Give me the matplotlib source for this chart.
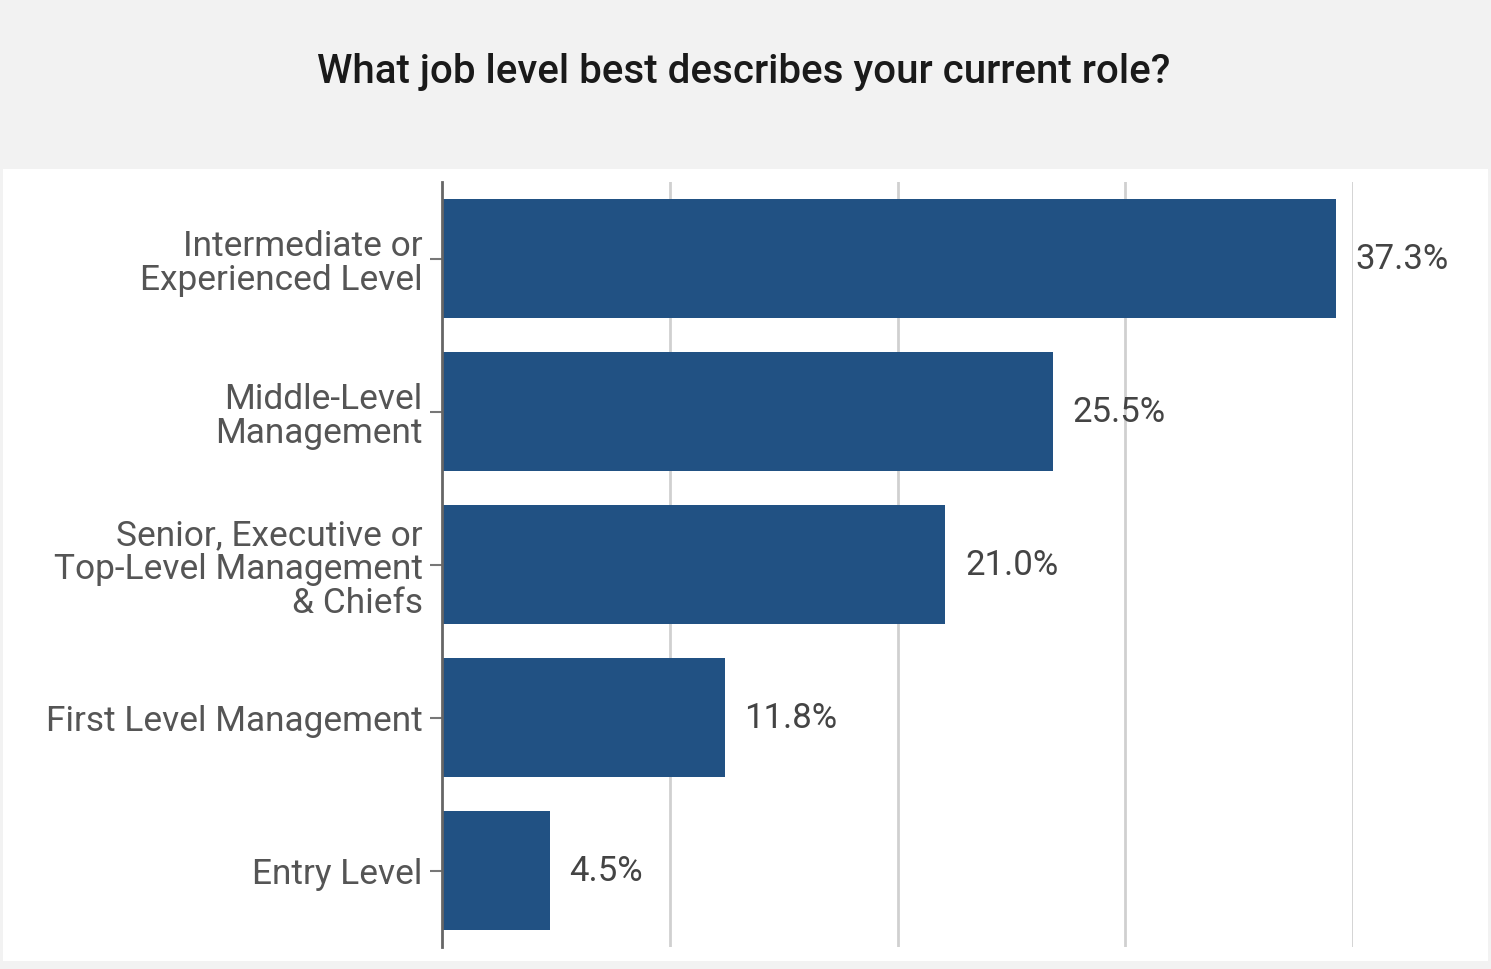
import matplotlib
matplotlib.use("Agg")
import matplotlib.pyplot as plt

categories = [
    "Intermediate or\nExperienced Level",
    "Middle-Level\nManagement",
    "Senior, Executive or\nTop-Level Management\n& Chiefs",
    "First Level Management",
    "Entry Level",
]
shares = [37.3, 25.5, 21.0, 11.8, 4.5]
grid_ticks = [9.5, 19.0, 28.5, 38.0]
title = "What job level best describes your current role?"

plt.rcParams["font.family"] = ["Roboto", "DejaVu Sans"]

W, H = 1491, 970
fig = plt.figure(figsize=(W / 100, H / 100), dpi=100)
fig.patch.set_facecolor("#f2f2f2")

# white panel behind the chart
bg = fig.add_axes([3 / W, 1 - 962 / H, 1485 / W, 792 / H], zorder=-1)
bg.set_facecolor("white")
bg.set_xticks([])
bg.set_yticks([])
for s in bg.spines.values():
    s.set_visible(False)

ax = fig.add_axes([442 / W, 1 - 948 / H, 911 / W, 765 / H])
ax.set_facecolor("none")

ypos = list(range(len(categories)))
ax.barh(ypos, shares, height=0.78, color="#215183", zorder=3)

for y, v in zip(ypos, shares):
    ax.annotate(f"{v:.1f}%", (v, y), xytext=(14, 0), textcoords="offset points",
                va="center", ha="left", fontsize=25, color="#444444")

ax.set_xlim(0, 38)
ax.set_ylim(4.5, -0.5)
ax.set_xticks(grid_ticks)
ax.set_xticklabels([])
ax.tick_params(axis="x", length=0)
ax.grid(axis="x", color="#d0d0d0", linewidth=2, zorder=0)

ax.set_yticks(ypos)
ax.set_yticklabels(categories, fontsize=25.4, color="#555555", linespacing=1.05)
ax.tick_params(axis="y", length=9, width=1.5, color="#777777", pad=5)

for s in ["top", "right", "bottom"]:
    ax.spines[s].set_visible(False)
ax.spines["left"].set_color("#666666")
ax.spines["left"].set_linewidth(2)
ax.spines["left"].set_zorder(4)

fig.text(0.499, 1 - 72 / H, title, ha="center", va="center",
         fontsize=29, fontweight="medium", color="#1a1a1a")

fig.savefig("out.png", dpi=100, facecolor=fig.get_facecolor())
